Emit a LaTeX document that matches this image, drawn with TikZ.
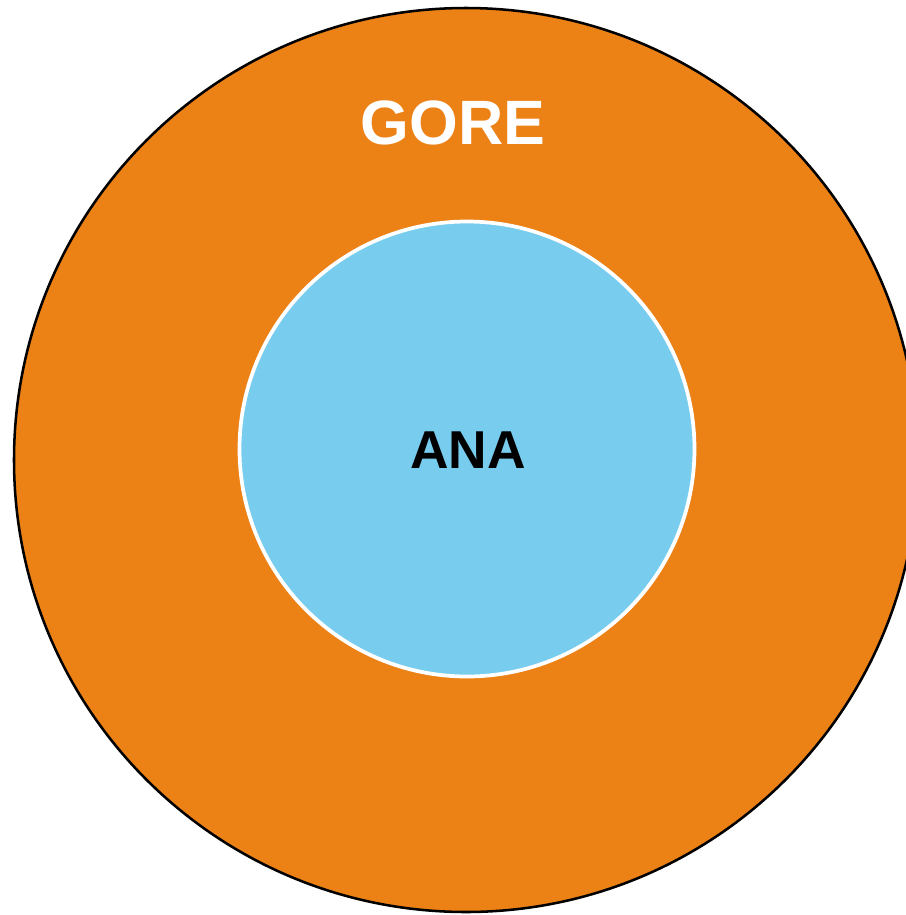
\documentclass[tikz,border=0pt]{standalone}
\usepackage{fontspec}
\setmainfont{Liberation Sans}
\definecolor{goreorange}{HTML}{EC8115}
\definecolor{anablue}{HTML}{78CDEF}

\begin{document}
\begin{tikzpicture}[x=0.75pt,y=-0.75pt]
      \useasboundingbox (0,0) rectangle (906,915);
      \node [circle, draw=black, line width=1.9pt, fill=goreorange, minimum size=678pt, inner sep=0pt] (gore) at (466,460) {};
      \node [circle, draw=white, line width=2.8pt, fill=anablue, minimum size=341.25pt, inner sep=0pt] (ana) at (467,449) {};

      \node [text=white, font=\fontsize{47}{47}\selectfont\bfseries] (gorelabel) at (453,123) {GORE};
      \node [text=black, font=\fontsize{40}{40}\selectfont\bfseries] (analabel) at (468,450) {ANA};
    \end{tikzpicture}
\end{document}
